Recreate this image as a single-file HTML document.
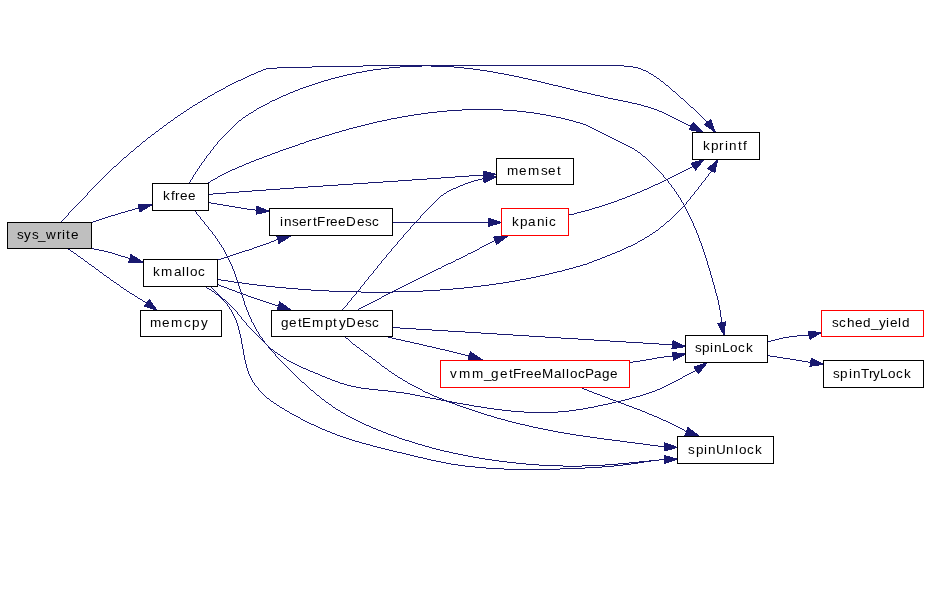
<!DOCTYPE html><html><head><meta charset="utf-8"><style>html,body{margin:0;padding:0;background:#fff;}svg{display:block;}text{font-family:"Liberation Sans",sans-serif;font-size:13.5px;fill:#000;}</style></head><body>
<svg width="928" height="595" viewBox="0 0 928 595">
<rect x="0" y="0" width="928" height="595" fill="#fff"/>
<g fill="none" stroke="#191970" stroke-width="1" shape-rendering="crispEdges">
<path d="M108,216.5h3M96,220.5h3M99,219.5h3M128,210.5h4M111,215.5h4M102,218.5h3M93,221.5h3M135,208.5h5M125,211.5h3M91,222.5h2M132,209.5h3M118,213.5h3M121,212.5h4M115,214.5h3M105,217.5h3"/>
<path d="M94,249.5h5M128,258.5h2M118,255.5h3M108,252.5h4M91,248.5h3M125,257.5h3M121,256.5h4M104,251.5h4M115,254.5h3M99,250.5h5M112,253.5h3"/>
<path d="M140,299.5h2M127,291.5h2M68,249.5h2M135,296.5h2M117,284.5h2M71,251.5h2M124,289.5h2M143,301.5h2M130,293.5h2M89,264.5h2M145,302.5h3M92,266.5h2M132,294.5h2M111,280.5h2M74,253.5h2M100,272.5h2M81,258.5h2M107,277.5h2M114,282.5h2M104,275.5h2M78,256.5h2M85,261.5h2M121,287.5h2M96,269.5h2M138,298.5h2M80.5,257v1M106.5,276v1M83.5,259v1M134.5,295v1M84.5,260v1M129.5,292v1M91.5,265v1M98.5,270v1M67.5,248v1M119.5,285v1M126.5,290v1M87.5,262v1M113.5,281v1M94.5,267v1M120.5,286v1M73.5,252v1M76.5,254v1M102.5,273v1M70.5,250v1M137.5,297v1M88.5,263v1M95.5,268v1M142.5,300v1M77.5,255v1M103.5,274v1M109.5,278v1M110.5,279v1M116.5,283v1M123.5,288v1M99.5,271v1"/>
<path d="M363,65.5h261M263,69.5h3M641,69.5h2M277,67.5h35M633,67.5h5M261,70.5h2M643,70.5h3M312,66.5h51M624,66.5h9M247,76.5h2M654,76.5h2M228,85.5h2M666,85.5h2M258,71.5h3M646,71.5h2M131,151.5h2M193,105.5h2M238,80.5h3M210,95.5h2M266,68.5h11M638,68.5h3M171,120.5h2M175,117.5h2M195,104.5h2M187,109.5h2M254,73.5h2M649,73.5h2M221,89.5h2M212,94.5h2M706,121.5h2M217,91.5h2M673,91.5h2M236,81.5h2M661,81.5h2M208,96.5h2M200,101.5h2M143,141.5h2M205,98.5h2M681,98.5h2M219,90.5h2M232,83.5h2M223,88.5h2M181,113.5h2M251,74.5h3M651,74.5h2M243,78.5h2M657,78.5h2M203,99.5h2M215,92.5h2M249,75.5h2M114,166.5h2M160,128.5h2M148,137.5h2M137,146.5h2M152,134.5h2M124,157.5h2M234,82.5h2M164,125.5h2M168,122.5h2M156,131.5h2M230,84.5h2M245,77.5h2M184,111.5h2M241,79.5h2M256,72.5h2M226,86.5h2M190,107.5h2M691,107.5h2M198,102.5h2M178,115.5h2M225.5,87v1M93.5,187v1M128.5,154v1M689.5,105v1M121.5,160v1M678.5,95v1M167.5,123v1M61.5,221v1M105.5,175v1M85.5,196v1M183.5,112v1M688.5,104v1M73.5,208v1M677.5,94v1M97.5,183v1M112.5,168v1M116.5,165v1M177.5,116v1M100.5,180v1M197.5,103v1M158.5,130v1M189.5,108v1M80.5,201v1M147.5,138v1M694.5,109v1M136.5,147v1M695.5,110v1M88.5,192v1M65.5,217v1M68.5,213v2M672.5,90v1M123.5,158v1M127.5,155v1M107.5,173v1M162.5,127v1M166.5,124v1M170.5,121v1M683.5,99v1M95.5,185v1M130.5,152v1M134.5,149v1M701.5,116v1M690.5,106v1M702.5,117v1M653.5,75v1M63.5,219v1M60.5,222v1M118.5,163v1M87.5,193v2M679.5,96v1M111.5,169v1M102.5,178v1M75.5,206v1M72.5,209v1M99.5,181v1M90.5,190v1M82.5,199v1M106.5,174v1M67.5,215v1M70.5,211v1M122.5,159v1M94.5,186v1M696.5,111v1M109.5,171v1M697.5,112v1M180.5,114v1M663.5,82v1M703.5,118v1M704.5,119v1M151.5,135v1M140.5,144v1M214.5,93v1M129.5,153v1M133.5,150v1M101.5,179v1M684.5,100v1M685.5,101v1M62.5,220v1M120.5,161v1M86.5,195v1M89.5,191v1M113.5,167v1M77.5,204v1M104.5,176v1M202.5,100v1M74.5,207v1M659.5,79v1M92.5,188v1M117.5,164v1M174.5,118v1M680.5,97v1M155.5,132v1M186.5,110v1M669.5,87v1M159.5,129v1M81.5,200v1M108.5,172v1M163.5,126v1M699.5,114v1M135.5,148v1M69.5,212v1M665.5,84v1M84.5,197v1M139.5,145v1M668.5,86v1M64.5,218v1M686.5,102v1M698.5,113v1M142.5,142v1M96.5,184v1M687.5,103v1M76.5,205v1M146.5,139v1M705.5,120v1M126.5,156v1M119.5,162v1M79.5,202v1M192.5,106v1M103.5,177v1M664.5,83v1M675.5,92v1M150.5,136v1M676.5,93v1M173.5,119v1M154.5,133v1M91.5,189v1M660.5,80v1M110.5,170v1M83.5,198v1M98.5,182v1M670.5,88v1M693.5,108v1M671.5,89v1M71.5,210v1M66.5,216v1M656.5,77v1M648.5,72v1M141.5,143v1M78.5,203v1M207.5,97v1M700.5,115v1M145.5,140v1"/>
<path d="M243,117.5h2M672,117.5h2M347,74.5h5M504,74.5h5M381,68.5h8M464,68.5h9M298,89.5h2M570,89.5h4M306,86.5h3M558,86.5h4M684,123.5h2M277,98.5h2M608,98.5h5M373,69.5h8M473,69.5h7M362,71.5h5M487,71.5h6M331,78.5h4M523,78.5h5M335,77.5h4M519,77.5h4M400,66.5h22M431,66.5h23M265,104.5h2M637,104.5h4M272,100.5h3M618,100.5h5M389,67.5h11M454,67.5h10M263,105.5h2M641,105.5h3M339,76.5h4M514,76.5h5M367,70.5h6M480,70.5h7M246,115.5h2M668,115.5h2M288,93.5h2M587,93.5h4M303,87.5h3M562,87.5h4M259,107.5h2M648,107.5h3M270,101.5h2M623,101.5h5M279,97.5h2M604,97.5h4M251,112.5h2M662,112.5h2M356,72.5h6M493,72.5h5M290,92.5h3M582,92.5h5M422,65.5h9M300,88.5h3M566,88.5h4M239,120.5h2M678,120.5h2M315,83.5h3M545,83.5h4M328,79.5h3M528,79.5h4M309,85.5h3M553,85.5h5M343,75.5h4M509,75.5h5M261,106.5h2M644,106.5h4M312,84.5h3M549,84.5h4M283,95.5h3M595,95.5h5M324,80.5h4M532,80.5h5M321,81.5h3M537,81.5h4M295,90.5h3M574,90.5h4M688,125.5h3M257,108.5h2M651,108.5h3M275,99.5h2M613,99.5h5M686,124.5h2M352,73.5h4M498,73.5h6M254,110.5h2M657,110.5h2M628,102.5h4M682,122.5h2M674,118.5h2M666,114.5h2M286,94.5h2M591,94.5h4M676,119.5h2M659,111.5h3M670,116.5h2M318,82.5h3M541,82.5h4M249,113.5h2M664,113.5h2M654,109.5h3M267,103.5h2M632,103.5h5M293,91.5h2M578,91.5h4M281,96.5h2M600,96.5h4M680,121.5h2M236.5,123v1M227.5,132v1M193.5,175v2M224.5,135v1M200.5,165v1M196.5,171v1M208.5,154v1M192.5,177v2M234.5,125v1M199.5,166v2M211.5,150v1M231.5,128v1M219.5,140v1M214.5,146v1M229.5,130v1M195.5,172v2M210.5,151v2M217.5,142v2M202.5,162v1M238.5,121v1M242.5,118v1M189.5,182v1M226.5,133v1M205.5,158v1M213.5,147v2M233.5,126v1M256.5,109v1M248.5,114v1M221.5,138v1M216.5,144v1M691.5,126v1M201.5,163v2M228.5,131v1M197.5,169v2M204.5,159v2M235.5,124v1M223.5,136v1M191.5,179v1M212.5,149v1M215.5,145v1M198.5,168v1M207.5,155v1M269.5,102v1M218.5,141v1M203.5,161v1M230.5,129v1M194.5,174v1M206.5,156v2M222.5,137v1M190.5,180v2M237.5,122v1M241.5,119v1M253.5,111v1M225.5,134v1M245.5,116v1M209.5,153v1M232.5,127v1M220.5,139v1"/>
<path d="M308,186.5h15M353,183.5h15M412,179.5h15M398,180.5h14M383,181.5h15M427,178.5h14M469,175.5h15M323,185.5h15M338,184.5h15M455,176.5h14M252,190.5h14M266,189.5h14M294,187.5h14M441,177.5h14M213,193.5h13M226,192.5h13M368,182.5h15M239,191.5h13M280,188.5h14M208,194.5h5"/>
<path d="M235,207.5h6M223,205.5h6M247,209.5h8M208,202.5h3M211,203.5h6M241,208.5h6M229,206.5h6M255,210.5h2M217,204.5h6"/>
<path d="M304,142.5h2M620,142.5h2M270,154.5h2M462,109.5h41M437,111.5h10M517,111.5h9M408,115.5h6M546,115.5h5M421,113.5h7M534,113.5h6M267,155.5h3M391,118.5h6M561,118.5h4M428,112.5h9M526,112.5h8M211,180.5h2M349,128.5h4M592,128.5h2M365,124.5h4M583,124.5h3M332,133.5h3M602,133.5h2M414,114.5h7M540,114.5h6M309,140.5h3M616,140.5h2M387,119.5h4M565,119.5h4M226,172.5h2M230,170.5h2M244,164.5h2M222,174.5h2M357,126.5h4M588,126.5h2M339,131.5h3M598,131.5h2M322,136.5h3M608,136.5h2M382,120.5h5M569,120.5h4M272,153.5h3M402,116.5h6M551,116.5h5M295,145.5h3M626,145.5h2M346,129.5h3M594,129.5h2M447,110.5h15M503,110.5h14M228,171.5h2M369,123.5h4M580,123.5h3M377,121.5h5M573,121.5h3M353,127.5h4M590,127.5h2M213,179.5h2M256,159.5h3M278,151.5h2M254,160.5h2M283,149.5h3M218,176.5h2M397,117.5h5M556,117.5h5M251,161.5h3M316,138.5h3M612,138.5h2M237,167.5h2M289,147.5h3M630,147.5h2M312,139.5h4M614,139.5h2M329,134.5h3M604,134.5h2M373,122.5h4M576,122.5h4M292,146.5h3M628,146.5h2M286,148.5h3M632,148.5h2M335,132.5h4M600,132.5h2M232,169.5h3M264,156.5h3M643,156.5h2M298,144.5h2M624,144.5h2M342,130.5h4M596,130.5h2M259,158.5h3M319,137.5h3M610,137.5h2M325,135.5h4M606,135.5h2M275,152.5h3M638,152.5h2M239,166.5h3M280,150.5h3M635,150.5h2M224,173.5h2M361,125.5h4M586,125.5h2M235,168.5h2M208,182.5h2M220,175.5h2M262,157.5h2M246,163.5h3M300,143.5h4M622,143.5h2M306,141.5h3M618,141.5h2M249,162.5h2M242,165.5h2M215,178.5h2M641.5,154v1M710.5,271v4M642.5,155v1M720.5,310v7M703.5,249v3M713.5,282v3M660.5,172v1M717.5,296v4M699.5,238v3M652.5,164v1M707.5,261v4M671.5,185v2M714.5,285v4M659.5,171v1M692.5,221v2M706.5,258v3M637.5,151v1M648.5,160v1M210.5,181v1M670.5,184v1M719.5,305v5M709.5,268v3M716.5,293v3M691.5,219v2M712.5,278v4M698.5,235v3M715.5,289v4M702.5,246v3M647.5,159v1M688.5,213v2M654.5,166v1M673.5,188v1M705.5,255v3M655.5,167v1M708.5,265v3M661.5,173v1M662.5,174v1M711.5,275v3M687.5,211v2M672.5,187v1M718.5,300v5M721.5,317v6M693.5,223v3M701.5,243v3M690.5,217v2M686.5,209v2M676.5,192v2M697.5,233v2M689.5,215v2M649.5,161v1M650.5,162v1M674.5,189v2M675.5,191v1M683.5,203v2M696.5,230v3M704.5,252v3M657.5,169v1M663.5,175v2M634.5,149v1M664.5,177v1M678.5,195v2M682.5,202v1M656.5,168v1M700.5,241v2M685.5,207v2M645.5,157v1M681.5,200v2M684.5,205v2M677.5,194v1M695.5,228v2M217.5,177v1M665.5,178v1M666.5,179v1M651.5,163v1M680.5,198v2M640.5,153v1M694.5,226v2M658.5,170v1M679.5,197v1M669.5,183v1M646.5,158v1M668.5,181v2M653.5,165v1M667.5,180v1"/>
<path d="M425,446.5h4M507,462.5h9M629,462.5h10M468,456.5h5M449,452.5h4M492,460.5h7M649,460.5h10M563,466.5h19M429,447.5h3M432,448.5h4M405,440.5h4M333,407.5h2M516,463.5h10M618,463.5h11M539,465.5h24M582,465.5h23M485,459.5h7M659,459.5h6M526,464.5h13M605,464.5h13M473,457.5h6M399,438.5h3M453,453.5h5M499,461.5h8M639,461.5h10M412,442.5h3M479,458.5h6M352,418.5h2M302,382.5h2M415,443.5h3M326,402.5h2M378,430.5h3M356,420.5h2M348,416.5h2M381,431.5h2M329,404.5h2M311,390.5h2M373,428.5h3M436,449.5h4M366,425.5h3M358,421.5h2M376,429.5h2M418,444.5h4M440,450.5h4M369,426.5h2M362,423.5h2M354,419.5h2M383,432.5h3M388,434.5h3M350,417.5h2M343,413.5h2M444,451.5h5M458,454.5h5M336,409.5h2M346,415.5h2M422,445.5h3M338,410.5h2M394,436.5h3M391,435.5h3M317,395.5h2M402,439.5h3M364,424.5h2M463,455.5h5M409,441.5h3M360,422.5h2M371,427.5h2M386,433.5h2M322,399.5h2M341,412.5h2M397,437.5h2M246.5,307v3M256.5,329v2M228.5,258v2M297.5,377v1M239.5,286v3M213.5,234v1M257.5,331v1M260.5,336v1M242.5,295v3M217.5,239v2M253.5,323v2M235.5,274v3M315.5,393v1M248.5,312v3M278.5,358v1M231.5,264v2M206.5,225v1M227.5,256v2M285.5,365v1M221.5,245v2M270.5,349v1M224.5,250v2M194.5,210v1M271.5,350v1M195.5,211v1M304.5,383v1M245.5,305v2M238.5,283v3M259.5,334v2M205.5,224v1M310.5,389v1M255.5,327v2M284.5,364v1M216.5,238v1M252.5,322v1M325.5,401v1M220.5,244v1M241.5,292v3M234.5,271v3M292.5,372v1M244.5,301v4M258.5,332v2M230.5,262v2M219.5,242v2M340.5,411v1M251.5,319v3M299.5,379v1M262.5,338v2M215.5,236v2M223.5,248v2M197.5,214v1M204.5,222v2M321.5,398v1M254.5,325v2M226.5,254v2M208.5,227v2M229.5,260v2M237.5,280v3M222.5,247v1M196.5,212v2M273.5,352v1M279.5,359v1M306.5,385v1M280.5,360v1M331.5,405v1M225.5,252v2M261.5,337v1M332.5,406v1M286.5,366v1M265.5,343v1M316.5,394v1M250.5,317v2M287.5,367v1M272.5,351v1M240.5,289v3M233.5,269v2M293.5,373v1M305.5,384v1M294.5,374v1M207.5,226v1M264.5,341v2M200.5,217v2M232.5,266v3M210.5,230v1M300.5,380v1M249.5,315v2M301.5,381v1M345.5,414v1M198.5,215v1M275.5,354v2M199.5,216v1M281.5,361v1M263.5,340v1M282.5,362v1M289.5,369v1M274.5,353v1M209.5,229v1M307.5,386v1M288.5,368v1M202.5,220v1M295.5,375v1M296.5,376v1M266.5,344v1M314.5,392v1M201.5,219v1M277.5,357v1M212.5,232v2M243.5,298v3M236.5,277v3M269.5,348v1M328.5,403v1M211.5,231v1M268.5,346v2M313.5,391v1M324.5,400v1M247.5,310v2M276.5,356v1M291.5,371v1M283.5,363v1M298.5,378v1M290.5,370v1M308.5,387v1M319.5,396v1M203.5,221v1M309.5,388v1M320.5,397v1M214.5,235v1M267.5,345v1M218.5,241v1M335.5,408v1"/>
<path d="M276,239.5h2M254,247.5h3M239,252.5h3M230,255.5h3M242,251.5h3M245,250.5h4M236,253.5h3M249,249.5h3M274,240.5h2M227,256.5h3M266,243.5h3M269,242.5h2M257,246.5h3M233,254.5h3M218,259.5h3M221,258.5h3M271,241.5h3M260,245.5h3M263,244.5h3M224,257.5h3M252,248.5h2M217.5,260v1"/>
<path d="M224,287.5h3M243,294.5h3M263,301.5h3M272,304.5h3M229,289.5h3M248,296.5h3M257,299.5h3M221,286.5h3M235,291.5h2M217,284.5h2M227,288.5h2M269,303.5h3M260,300.5h3M240,293.5h3M232,290.5h3M254,298.5h3M246,295.5h2M237,292.5h3M275,305.5h3M219,285.5h2M251,297.5h3M266,302.5h3M278.5,306v1"/>
<path d="M622,249.5h2M626,247.5h2M298,289.5h13M440,289.5h13M266,286.5h9M473,286.5h8M286,288.5h12M453,288.5h11M329,291.5h32M393,291.5h30M242,283.5h7M496,283.5h7M361,292.5h32M573,267.5h3M553,272.5h4M221,280.5h7M515,280.5h5M653,232.5h2M602,257.5h3M645,237.5h2M612,253.5h3M562,270.5h3M540,275.5h5M607,255.5h3M311,290.5h18M423,290.5h17M217,279.5h4M520,279.5h6M617,251.5h3M249,284.5h8M489,284.5h7M592,261.5h2M569,268.5h4M549,273.5h4M228,281.5h6M509,281.5h6M257,285.5h9M481,285.5h8M275,287.5h11M464,287.5h9M650,234.5h2M597,259.5h3M642,239.5h2M633,244.5h2M661,226.5h2M557,271.5h5M536,276.5h4M580,265.5h3M234,282.5h8M503,282.5h6M587,263.5h2M531,277.5h5M638,241.5h2M576,266.5h4M628,246.5h3M583,264.5h4M610,254.5h2M526,278.5h5M545,274.5h4M594,260.5h3M667,221.5h2M656,230.5h2M605,256.5h2M589,262.5h3M615,252.5h2M624,248.5h2M565,269.5h4M620,250.5h2M647,236.5h2M600,258.5h2M635,243.5h2M640,240.5h2M631,245.5h2M694.5,192v2M665.5,223v1M689.5,199v1M658.5,229v1M705.5,178v2M697.5,189v1M669.5,220v1M708.5,174v2M681.5,208v1M673.5,216v1M676.5,213v1M711.5,170v2M652.5,233v1M696.5,190v1M688.5,200v1M691.5,196v1M660.5,227v1M683.5,206v1M699.5,186v1M671.5,218v1M664.5,224v1M707.5,176v1M678.5,211v1M710.5,172v1M675.5,214v1M702.5,182v1M690.5,197v2M682.5,207v1M698.5,187v2M666.5,222v1M655.5,231v1M693.5,194v1M670.5,219v1M685.5,204v1M701.5,183v2M649.5,235v1M704.5,180v1M680.5,209v1M677.5,212v1M637.5,242v1M684.5,205v1M672.5,217v1M692.5,195v1M687.5,201v1M700.5,185v1M703.5,181v1M695.5,191v1M679.5,210v1M659.5,228v1M663.5,225v1M644.5,238v1M686.5,202v2M706.5,177v1M674.5,215v1M709.5,173v1"/>
<path d="M494,409.5h8M576,409.5h7M420,396.5h5M636,396.5h4M338,382.5h2M672,382.5h2M361,388.5h8M660,388.5h2M356,387.5h5M662,387.5h2M524,412.5h34M369,389.5h9M657,389.5h3M469,405.5h5M598,405.5h5M278,354.5h2M410,394.5h5M643,394.5h3M378,390.5h10M655,390.5h2M474,406.5h7M594,406.5h4M332,380.5h3M676,380.5h2M318,374.5h2M687,374.5h2M452,402.5h5M612,402.5h4M446,401.5h6M616,401.5h5M457,403.5h6M608,403.5h4M425,397.5h5M632,397.5h4M322,376.5h3M683,376.5h2M396,392.5h8M649,392.5h3M502,410.5h9M569,410.5h7M463,404.5h6M603,404.5h5M511,411.5h13M558,411.5h11M344,384.5h3M668,384.5h2M388,391.5h8M652,391.5h3M430,398.5h6M629,398.5h3M340,383.5h4M670,383.5h2M436,399.5h5M625,399.5h4M415,395.5h5M640,395.5h3M327,378.5h3M680,378.5h2M487,408.5h7M583,408.5h5M441,400.5h5M621,400.5h4M481,407.5h6M588,407.5h6M351,386.5h5M664,386.5h2M303,368.5h3M295,364.5h2M404,393.5h6M646,393.5h3M347,385.5h4M666,385.5h2M313,372.5h2M691,372.5h2M315,373.5h3M689,373.5h2M306,369.5h2M308,370.5h2M695,370.5h2M310,371.5h3M693,371.5h2M287,360.5h2M291,362.5h2M330,379.5h2M678,379.5h2M284,358.5h2M325,377.5h2M335,381.5h3M674,381.5h2M320,375.5h2M685,375.5h2M275,352.5h2M293,363.5h2M289,361.5h2M271,349.5h2M223,299.5h2M299,366.5h2M301,367.5h2M297,365.5h2M281,356.5h2M212.5,288v1M283.5,357v1M248.5,326v1M230.5,305v1M249.5,327v1M219.5,295v1M237.5,312v2M256.5,334v1M241.5,317v2M274.5,351v1M255.5,333v1M262.5,340v1M263.5,341v1M269.5,347v1M270.5,348v1M240.5,316v1M222.5,298v1M225.5,300v1M214.5,290v1M226.5,301v1M232.5,307v1M233.5,308v1M243.5,320v1M250.5,328v1M251.5,329v1M221.5,297v1M258.5,336v1M265.5,343v1M257.5,335v1M280.5,355v1M242.5,319v1M264.5,342v1M227.5,302v1M228.5,303v1M235.5,310v1M215.5,291v1M216.5,292v1M234.5,309v1M260.5,338v1M252.5,330v1M244.5,321v1M245.5,322v1M210.5,286v1M259.5,337v1M211.5,287v1M266.5,344v1M229.5,304v1M277.5,353v1M218.5,294v1M236.5,311v1M217.5,293v1M246.5,323v2M273.5,350v1M247.5,325v1M253.5,331v1M254.5,332v1M239.5,315v1M261.5,339v1M286.5,359v1M682.5,377v1M268.5,346v1M213.5,289v1M231.5,306v1M267.5,345v1M238.5,314v1M220.5,296v1"/>
<path d="M451,464.5h7M623,464.5h8M385,449.5h4M458,465.5h7M614,465.5h9M427,459.5h4M659,459.5h6M216,294.5h2M436,461.5h5M644,461.5h7M431,460.5h5M651,460.5h8M318,427.5h2M504,469.5h56M340,436.5h3M397,452.5h5M486,468.5h18M560,468.5h25M475,467.5h11M585,467.5h17M332,433.5h3M362,443.5h4M465,466.5h10M602,466.5h12M294,415.5h2M335,434.5h2M337,435.5h3M327,431.5h3M298,417.5h2M290,413.5h2M446,463.5h5M631,463.5h7M292,414.5h2M366,444.5h4M406,454.5h4M389,450.5h4M287,411.5h2M370,445.5h3M343,437.5h3M212,291.5h2M441,462.5h5M638,462.5h6M207,288.5h2M393,451.5h4M373,446.5h4M414,456.5h4M377,447.5h4M349,439.5h3M280,407.5h2M282,408.5h2M346,438.5h3M355,441.5h4M418,457.5h5M352,440.5h3M274,403.5h2M381,448.5h4M320,428.5h2M311,424.5h3M402,453.5h4M271,401.5h2M305,421.5h2M322,429.5h3M314,425.5h2M316,426.5h2M307,422.5h2M309,423.5h2M301,419.5h2M359,442.5h3M325,430.5h2M303,420.5h2M296,416.5h2M267,398.5h2M410,455.5h4M330,432.5h2M423,458.5h4M285,410.5h2M209,289.5h2M277,405.5h2M204,286.5h2M231.5,310v2M215.5,293v1M244.5,355v5M238.5,326v4M241.5,338v6M254.5,383v2M230.5,309v1M250.5,376v2M258.5,388v2M243.5,349v6M265.5,396v1M237.5,323v3M211.5,290v1M222.5,299v1M240.5,334v4M233.5,314v2M229.5,307v2M247.5,368v3M246.5,364v4M279.5,406v1M239.5,330v4M257.5,387v1M232.5,312v2M221.5,298v1M236.5,320v3M260.5,391v1M242.5,344v5M248.5,371v3M300.5,418v1M245.5,360v4M259.5,390v1M289.5,412v1M224.5,301v1M266.5,397v1M223.5,300v1M252.5,380v2M235.5,318v2M284.5,409v1M262.5,393v1M251.5,378v2M261.5,392v1M273.5,402v1M218.5,295v1M276.5,404v1M219.5,296v1M225.5,302v1M253.5,382v1M214.5,292v1M226.5,303v1M249.5,374v2M206.5,287v1M264.5,395v1M227.5,304v2M228.5,306v1M256.5,386v1M263.5,394v1M220.5,297v1M234.5,316v2M255.5,385v1M269.5,399v1M270.5,400v1"/>
<path d="M465,183.5h3M474,180.5h4M441,195.5h2M478,179.5h4M471,181.5h3M447,191.5h2M458,186.5h2M456,187.5h2M453,188.5h3M482,178.5h2M460,185.5h3M468,182.5h3M444,193.5h2M449,190.5h2M463,184.5h2M451,189.5h2M418.5,219v1M420.5,216v2M421.5,215v1M381.5,261v2M397.5,242v2M417.5,220v1M392.5,248v1M393.5,247v1M415.5,222v1M391.5,249v2M364.5,282v2M440.5,196v1M360.5,287v2M368.5,277v2M356.5,292v2M409.5,229v1M429.5,207v1M430.5,206v1M407.5,231v1M427.5,209v1M428.5,208v1M403.5,235v2M402.5,237v1M350.5,300v1M352.5,297v1M385.5,257v1M346.5,305v1M348.5,302v1M413.5,224v1M414.5,223v1M439.5,197v1M342.5,309v2M344.5,307v1M345.5,306v1M411.5,226v1M412.5,225v1M377.5,266v2M437.5,199v1M438.5,198v1M395.5,245v1M408.5,230v1M410.5,227v2M358.5,290v1M373.5,271v2M359.5,289v1M436.5,200v1M406.5,232v1M354.5,295v1M355.5,294v1M357.5,291v1M435.5,201v1M390.5,251v1M351.5,298v2M353.5,296v1M405.5,233v1M425.5,211v1M426.5,210v1M371.5,274v1M386.5,255v2M347.5,303v2M349.5,301v1M401.5,238v1M404.5,234v1M366.5,280v1M367.5,279v1M369.5,276v1M424.5,212v1M399.5,240v1M400.5,239v1M363.5,284v1M365.5,281v1M423.5,213v1M396.5,244v1M398.5,241v1M361.5,286v1M362.5,285v1M419.5,218v1M443.5,194v1M379.5,264v1M394.5,246v1M343.5,308v1M446.5,192v1M375.5,269v1M376.5,268v1M378.5,265v1M372.5,273v1M374.5,270v1M416.5,221v1M434.5,202v1M389.5,252v1M370.5,275v1M432.5,204v1M433.5,203v1M387.5,254v1M388.5,253v1M431.5,205v1M384.5,258v1M422.5,214v1M380.5,263v1M382.5,260v1M383.5,259v1"/>
<path d="M482,246.5h2M386,294.5h2M388,293.5h2M473,251.5h2M377,299.5h2M475,250.5h2M422,276.5h2M396,289.5h2M480,247.5h2M484,245.5h2M432,271.5h2M490,242.5h2M492,241.5h2M442,266.5h2M390,292.5h2M398,288.5h2M456,259.5h3M486,244.5h2M363,306.5h2M408,283.5h2M448,263.5h3M494,240.5h2M418,278.5h2M459,258.5h2M406,284.5h2M359,308.5h2M465,255.5h2M404,285.5h2M416,279.5h2M365,305.5h2M410,282.5h2M453,261.5h2M375,300.5h2M461,257.5h2M434,270.5h2M382,296.5h2M373,301.5h2M471,252.5h2M392,291.5h2M371,302.5h2M477,249.5h2M428,273.5h2M430,272.5h2M488,243.5h2M436,269.5h2M438,268.5h3M400,287.5h2M446,264.5h2M394,290.5h2M444,265.5h2M402,286.5h2M367,304.5h2M412,281.5h2M414,280.5h2M361,307.5h2M420,277.5h2M463,256.5h2M468,253.5h3M369,303.5h2M379,298.5h2M424,275.5h2M426,274.5h2M384,295.5h2M451,262.5h2M381.5,297v1M358.5,309v1M357.5,310v1M455.5,260v1M467.5,254v1M441.5,267v1M479.5,248v1"/>
<path d="M465,332.5h16M513,335.5h16M416,329.5h16M659,344.5h14M561,338.5h17M400,328.5h16M497,334.5h16M392,327.5h8M594,340.5h16M529,336.5h16M432,330.5h16M626,342.5h17M610,341.5h16M643,343.5h16M545,337.5h16M578,339.5h16M481,333.5h16M448,331.5h17"/>
<path d="M437,397.5h2M478,412.5h3M428,393.5h2M643,444.5h7M564,433.5h6M452,403.5h3M414,386.5h2M481,413.5h3M548,430.5h5M529,426.5h4M508,421.5h4M604,439.5h8M418,388.5h2M447,401.5h2M512,422.5h4M612,440.5h8M484,414.5h3M439,398.5h3M369,356.5h2M543,429.5h5M410,384.5h2M403,380.5h2M620,441.5h7M353,344.5h2M365,353.5h2M627,442.5h8M405,381.5h2M635,443.5h8M455,404.5h2M491,416.5h3M583,436.5h7M449,402.5h3M590,437.5h7M553,431.5h5M533,427.5h5M650,445.5h8M466,408.5h3M597,438.5h7M395,375.5h2M487,415.5h4M469,409.5h3M460,406.5h3M398,377.5h2M516,423.5h4M361,350.5h2M497,418.5h4M570,434.5h6M472,410.5h3M423,391.5h2M494,417.5h3M346,338.5h2M357,347.5h2M389,371.5h2M525,425.5h4M505,420.5h3M558,432.5h6M434,396.5h3M538,428.5h5M520,424.5h5M430,394.5h2M501,419.5h4M475,411.5h3M416,387.5h2M425,392.5h3M442,399.5h2M420,389.5h2M412,385.5h2M444,400.5h3M576,435.5h7M385,368.5h2M408,383.5h2M658,446.5h7M382,366.5h2M457,405.5h3M400,378.5h2M377,362.5h2M463,407.5h3M392,373.5h2M373,359.5h2M432,395.5h2M422.5,390v1M355.5,345v1M407.5,382v1M402.5,379v1M384.5,367v1M350.5,341v1M379.5,363v1M380.5,364v1M394.5,374v1M345.5,337v1M375.5,360v1M356.5,346v1M371.5,357v1M352.5,343v1M381.5,365v1M367.5,354v1M351.5,342v1M376.5,361v1M391.5,372v1M372.5,358v1M387.5,369v1M364.5,352v1M368.5,355v1M397.5,376v1M348.5,339v1M349.5,340v1M360.5,349v1M363.5,351v1M359.5,348v1M388.5,370v1"/>
<path d="M419,344.5h4M427,346.5h5M401,340.5h4M465,355.5h5M449,351.5h4M410,342.5h4M461,354.5h4M440,349.5h5M392,338.5h4M453,352.5h4M423,345.5h4M414,343.5h5M396,339.5h5M445,350.5h4M405,341.5h5M388,337.5h4M457,353.5h4M432,347.5h4M436,348.5h4"/>
<path d="M392,222.5h97"/>
<path d="M569,214.5h5M649,187.5h2M611,202.5h3M589,209.5h3M592,208.5h3M644,189.5h3M608,203.5h3M686,169.5h2M619,199.5h3M585,210.5h4M658,183.5h2M622,198.5h3M614,201.5h3M653,185.5h2M655,184.5h3M662,181.5h2M599,206.5h3M577,212.5h4M581,211.5h4M630,195.5h2M647,188.5h2M574,213.5h3M660,182.5h2M627,196.5h3M670,177.5h2M672,176.5h2M637,192.5h3M678,173.5h2M680,172.5h2M632,194.5h3M635,193.5h2M605,204.5h3M688,168.5h2M666,179.5h2M602,205.5h3M674,175.5h2M676,174.5h2M640,191.5h2M682,171.5h2M684,170.5h2M690,167.5h2M617,200.5h2M595,207.5h4M651,186.5h2M692,166.5h2M625,197.5h2M668,178.5h2M642,190.5h2M664,180.5h2M568.5,215v1"/>
<path d="M640,360.5h6M664,356.5h10M646,359.5h6M657,357.5h7M633,361.5h7M652,358.5h5M629,362.5h4"/>
<path d="M589,391.5h3M666,421.5h2M657,417.5h2M649,414.5h3M640,410.5h2M632,407.5h2M613,400.5h3M682,429.5h2M659,418.5h2M642,411.5h3M592,392.5h2M624,404.5h2M602,396.5h3M584,389.5h3M661,419.5h2M645,412.5h2M626,405.5h3M618,402.5h3M676,426.5h2M654,416.5h3M637,409.5h3M579,387.5h3M610,399.5h3M663,420.5h3M629,406.5h3M594,393.5h3M680,428.5h2M621,403.5h3M587,390.5h2M616,401.5h2M597,394.5h3M652,415.5h2M634,408.5h3M608,398.5h2M600,395.5h2M582,388.5h2M674,425.5h2M670,423.5h2M678,427.5h2M605,397.5h3M672,424.5h2M647,413.5h2M668,422.5h2M685,431.5h2M684.5,430v1"/>
<path d="M768,341.5h3M775,339.5h4M797,335.5h13M779,338.5h4M783,337.5h6M771,340.5h4M789,336.5h8M767.5,342v1"/>
<path d="M777,357.5h6M790,359.5h6M796,360.5h6M802,361.5h6M768,355.5h2M770,356.5h7M808,362.5h3M783,358.5h7"/>
</g>
<g fill="#191970" stroke="#191970" stroke-width="1" shape-rendering="crispEdges">
<path d="M152.50,204.50 L140.00,211.87 L138.00,204.13 Z"/>
<path d="M143.30,262.20 L128.74,262.36 L130.86,254.64 Z"/>
<path d="M157.00,310.30 L144.62,306.12 L149.38,299.68 Z"/>
<path d="M715.30,132.30 L704.30,124.30 L710.70,119.50 Z"/>
<path d="M703.20,132.50 L689.32,129.63 L693.08,122.57 Z"/>
<path d="M496.30,174.30 L483.72,178.99 L483.28,171.01 Z"/>
<path d="M269.70,211.30 L256.07,214.19 L256.73,206.21 Z"/>
<path d="M724.20,335.30 L717.59,323.54 L725.41,321.86 Z"/>
<path d="M677.50,459.20 L664.69,463.50 L664.51,455.50 Z"/>
<path d="M291.70,235.50 L278.93,243.44 L276.67,235.76 Z"/>
<path d="M291.60,310.20 L277.28,309.81 L279.72,302.19 Z"/>
<path d="M717.70,159.40 L714.89,172.56 L707.91,168.64 Z"/>
<path d="M707.40,362.40 L698.64,373.65 L693.96,367.15 Z"/>
<path d="M677.50,459.20 L664.69,463.50 L664.51,455.50 Z"/>
<path d="M496.30,177.00 L484.13,182.66 L483.07,174.74 Z"/>
<path d="M508.70,235.20 L496.62,244.50 L493.58,237.10 Z"/>
<path d="M685.80,346.60 L671.96,348.76 L673.04,340.84 Z"/>
<path d="M677.50,447.40 L664.45,450.90 L664.75,442.90 Z"/>
<path d="M481.80,359.60 L468.05,359.63 L470.35,351.97 Z"/>
<path d="M501.60,222.50 L488.47,226.40 L488.53,218.40 Z"/>
<path d="M704.20,159.40 L695.60,169.84 L691.20,163.16 Z"/>
<path d="M685.40,354.10 L673.70,360.24 L672.30,352.36 Z"/>
<path d="M699.50,436.30 L685.09,435.14 L687.91,427.66 Z"/>
<path d="M821.50,332.40 L810.12,339.19 L808.28,331.41 Z"/>
<path d="M823.80,364.40 L809.97,366.25 L811.23,358.35 Z"/>
</g>
<rect x="7.5" y="222.5" width="84" height="26" fill="#bfbfbf" stroke="#000" stroke-width="1" shape-rendering="crispEdges"/>
<rect x="152.5" y="183.5" width="56" height="27" fill="#fff" stroke="#000" stroke-width="1" shape-rendering="crispEdges"/>
<rect x="143.5" y="259.5" width="74" height="27" fill="#fff" stroke="#000" stroke-width="1" shape-rendering="crispEdges"/>
<rect x="140.5" y="310.5" width="81" height="26" fill="#fff" stroke="#000" stroke-width="1" shape-rendering="crispEdges"/>
<rect x="269.5" y="208.5" width="123" height="27" fill="#fff" stroke="#000" stroke-width="1" shape-rendering="crispEdges"/>
<rect x="271.5" y="310.5" width="121" height="26" fill="#fff" stroke="#000" stroke-width="1" shape-rendering="crispEdges"/>
<rect x="496.5" y="158.5" width="77" height="26" fill="#fff" stroke="#000" stroke-width="1" shape-rendering="crispEdges"/>
<rect x="501.5" y="208.5" width="67" height="27" fill="#fff" stroke="#f00" stroke-width="1" shape-rendering="crispEdges"/>
<rect x="440.5" y="360.5" width="189" height="27" fill="#fff" stroke="#f00" stroke-width="1" shape-rendering="crispEdges"/>
<rect x="692.5" y="132.5" width="67" height="27" fill="#fff" stroke="#000" stroke-width="1" shape-rendering="crispEdges"/>
<rect x="685.5" y="335.5" width="82" height="27" fill="#fff" stroke="#000" stroke-width="1" shape-rendering="crispEdges"/>
<rect x="677.5" y="436.5" width="96" height="27" fill="#fff" stroke="#000" stroke-width="1" shape-rendering="crispEdges"/>
<rect x="821.5" y="310.5" width="102" height="26" fill="#fff" stroke="#f00" stroke-width="1" shape-rendering="crispEdges"/>
<rect x="823.5" y="360.5" width="100" height="27" fill="#fff" stroke="#000" stroke-width="1" shape-rendering="crispEdges"/>
<g style="filter:grayscale(1)">
<text x="17.0 24.0 32.0 38.0 46.0 57.0 62.0 66.0 71.0" y="239.00">sys_write</text>
<text x="163.0 171.0 175.0 180.0 188.0" y="200.00">kfree</text>
<text x="153.0 161.0 174.0 182.0 186.0 190.0 198.0" y="276.00">kmalloc</text>
<text x="150.0 162.0 171.0 184.0 192.0 201.0" y="327.00">memcpy</text>
<text x="280.0 284.0 292.0 299.0 307.0 313.0 317.0 326.0 330.0 338.0 346.0 357.0 365.0 372.0" y="226.00">insertFreeDesc</text>
<text x="281.0 289.0 298.0 302.0 312.0 325.0 333.0 339.0 346.0 357.0 365.0 372.0" y="327.00">getEmptyDesc</text>
<text x="507.0 519.0 528.0 541.0 548.0 557.0" y="175.00">memset</text>
<text x="512.0 520.0 528.0 537.0 545.0 549.0" y="226.00">kpanic</text>
<text x="450.0 459.0 472.0 484.0 491.0 500.0 509.0 513.0 521.0 526.0 534.0 542.0 554.0 562.0 566.0 570.0 578.0 585.0 594.0 602.0 610.0" y="378.00">vmm_getFreeMallocPage</text>
<text x="703.0 711.0 719.0 725.0 729.0 738.0 743.0" y="150.00">kprintf</text>
<text x="695.0 702.0 710.0 714.0 722.0 730.0 738.0 746.0" y="352.00">spinLock</text>
<text x="688.0 696.0 704.0 708.0 716.0 726.0 735.0 739.0 747.0 755.0" y="454.00">spinUnlock</text>
<text x="832.0 839.0 847.0 855.0 863.0 871.0 879.0 886.0 890.0 898.0 902.0" y="327.00">sched_yield</text>
<text x="833.0 840.0 849.0 853.0 861.0 869.0 873.0 880.0 888.0 896.0 904.0" y="378.00">spinTryLock</text>
</g>
</svg></body></html>
